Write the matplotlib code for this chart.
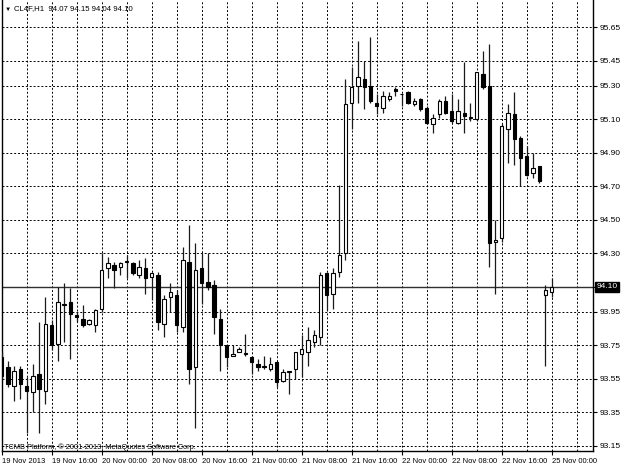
import numpy as np
import matplotlib
matplotlib.use("Agg")
import matplotlib.pyplot as plt
from matplotlib.transforms import blended_transform_factory

plt.rcParams['font.family'] = ['Liberation Sans', 'DejaVu Sans']

# hourly candles, CL4F H1 (bar index -4 = 19 Nov 08:00)
opens = [93.68, 93.62, 93.51, 93.61, 93.51, 93.47, 93.58, 93.48, 93.87, 93.76,
         93.99, 94.01, 93.93, 93.91, 93.88, 93.87, 93.97, 94.21, 94.23, 94.22,
         94.25, 94.24, 94.17, 94.21, 94.16, 94.17, 93.88, 94.04, 94.05, 93.86,
         94.25, 93.62, 94.21, 94.13, 94.11, 93.91, 93.75, 93.69, 93.71, 93.70,
         93.68, 93.64, 93.63, 93.61, 93.65, 93.54, 93.59, 93.61, 93.70, 93.71,
         93.77, 93.80, 94.18, 94.06, 94.19, 94.30, 95.20, 95.30, 95.34, 95.30,
         95.20, 95.17, 95.22, 95.28, 95.25, 95.26, 95.19, 95.22, 95.17, 95.07,
         95.13, 95.21, 95.15, 95.08, 95.14, 95.11, 95.10, 95.37, 95.30, 94.37,
         94.39, 95.04, 95.13, 94.99, 94.88, 94.78, 94.82, 94.05, 94.07]
highs = [93.71, 93.66, 93.63, 93.63, 93.56, 93.64, 93.89, 94.04, 93.90, 94.10,
         94.12, 94.09, 93.95, 93.99, 93.91, 93.97, 94.30, 94.28, 94.25, 94.25,
         94.29, 94.25, 94.26, 94.27, 94.19, 94.19, 94.05, 94.12, 94.08, 94.34,
         94.47, 94.36, 94.30, 94.30, 94.14, 93.97, 93.75, 93.75, 93.74, 93.82,
         93.69, 93.67, 93.69, 93.68, 93.65, 93.61, 93.60, 93.71, 93.81, 93.86,
         93.84, 94.19, 94.19, 94.21, 94.71, 95.34, 95.41, 95.57, 95.45, 95.59,
         95.25, 95.27, 95.26, 95.29, 95.25, 95.27, 95.23, 95.23, 95.18, 95.13,
         95.22, 95.24, 95.25, 95.22, 95.44, 95.20, 95.38, 95.51, 95.55, 94.50,
         95.07, 95.19, 95.26, 95.00, 94.94, 94.90, 94.82, 94.11, 94.15]
lows = [93.55, 93.50, 93.42, 93.43, 93.23, 93.35, 93.23, 93.40, 93.72, 93.66,
        93.77, 93.67, 93.89, 93.86, 93.87, 93.83, 93.95, 94.15, 94.09, 94.17,
        94.15, 94.17, 94.15, 94.06, 94.02, 93.84, 93.80, 93.95, 93.83, 93.83,
        93.52, 93.26, 94.00, 94.08, 93.82, 93.60, 93.62, 93.69, 93.71, 93.69,
        93.58, 93.60, 93.61, 93.60, 93.50, 93.53, 93.46, 93.55, 93.56, 93.63,
        93.74, 93.75, 93.96, 93.97, 94.16, 94.26, 95.04, 95.20, 95.16, 95.20,
        95.13, 95.14, 95.21, 95.24, 95.18, 95.19, 95.18, 95.15, 95.07, 95.02,
        95.11, 95.13, 95.08, 95.07, 95.02, 95.09, 95.09, 95.28, 94.22, 94.06,
        94.37, 94.84, 94.83, 94.70, 94.76, 94.75, 94.72, 93.63, 94.04]
closes = [93.57, 93.52, 93.60, 93.52, 93.48, 93.57, 93.49, 93.88, 93.75, 94.01,
          94.00, 93.94, 93.92, 93.87, 93.90, 93.96, 94.20, 94.24, 94.20, 94.24,
          94.25, 94.18, 94.22, 94.15, 94.18, 93.89, 94.03, 94.07, 93.87, 94.26,
          93.61, 94.20, 94.12, 94.10, 93.92, 93.75, 93.68, 93.70, 93.73, 93.70,
          93.65, 93.62, 93.62, 93.64, 93.53, 93.59, 93.60, 93.71, 93.73, 93.78,
          93.81, 94.17, 94.05, 94.18, 94.29, 95.19, 95.29, 95.35, 95.29, 95.21,
          95.18, 95.24, 95.24, 95.27, 95.25, 95.20, 95.21, 95.16, 95.08, 95.11,
          95.21, 95.14, 95.09, 95.15, 95.12, 95.11, 95.38, 95.29, 94.36, 94.38,
          95.06, 95.14, 94.98, 94.87, 94.77, 94.81, 94.73, 94.08, 94.10]

price_levels = [95.65, 95.45, 95.30, 95.10, 94.90, 94.70, 94.50, 94.30, 94.10,
                93.95, 93.75, 93.55, 93.35, 93.15]
time_labels = ['19 Nov 2013', '19 Nov 16:00', '20 Nov 00:00', '20 Nov 08:00',
               '20 Nov 16:00', '21 Nov 00:00', '21 Nov 08:00', '21 Nov 16:00',
               '22 Nov 00:00', '22 Nov 08:00', '22 Nov 16:00', '25 Nov 00:00']
last_price = 94.10

o = np.array(opens)
h = np.array(highs)
l = np.array(lows)
c = np.array(closes)
x = np.arange(len(o)) - 4

fig = plt.figure(figsize=(6.24, 4.68), dpi=100)
ax = fig.add_axes([1.5 / 624, 1 - 451 / 468, 591.5 / 624, 451 / 468])
ax.set_xlim(-4.03, 90.6)
ax.set_ylim(93.12, 95.812)

# grid
grid_kw = dict(color='black', lw=0.7, ls=(0, (2, 2)), zorder=1)
for k in range(0, 89, 4):
    ax.axvline(k, **grid_kw)
for p in price_levels:
    ax.axhline(p, **grid_kw)

# current price line
ax.axhline(last_price, color='#303030', lw=1.0, zorder=2)

# candles
ax.vlines(x, l, h, color='#1a1a1a', lw=0.9, zorder=3)
bull = c >= o
body_lo = np.minimum(o, c)
body_h = np.maximum(np.abs(c - o), 0.002)
ax.bar(x[bull], body_h[bull], bottom=body_lo[bull], width=0.55,
       facecolor='white', edgecolor='black', lw=0.8, zorder=4)
ax.bar(x[~bull], body_h[~bull], bottom=body_lo[~bull], width=0.55,
       facecolor='black', edgecolor='black', lw=0.8, zorder=4)

# axes, ticks
ax.spines['top'].set_visible(False)
for s in ['left', 'right', 'bottom']:
    ax.spines[s].set_linewidth(1.0)
    ax.spines[s].set_color('black')

ax.yaxis.tick_right()
ax.set_yticks(price_levels)
ax.set_yticklabels(['' if p == last_price else f'{p:.2f}' for p in price_levels])
ax.tick_params(axis='y', length=3, width=0.8, pad=1.5, labelsize=6.0)

ax.set_xticks(np.arange(len(time_labels)) * 8 - 4)
ax.set_xticklabels(time_labels)
ax.tick_params(axis='x', length=3, width=0.8, pad=2, labelsize=5.5)
plt.setp(ax.get_xticklabels(), ha='left')

# price box on the right
tr = blended_transform_factory(ax.transAxes, ax.transData)
ax.text(1.006, last_price, f'{last_price:.2f}', transform=tr, fontsize=6.0,
        color='white', va='center', ha='left', clip_on=False,
        bbox=dict(boxstyle='square,pad=0.2', facecolor='black', edgecolor='black'))

# header and copyright
fig.text(5 / 624, 1 - 9 / 468, '\u25bc', fontsize=4.5, va='center', ha='left')
fig.text(14 / 624, 1 - 9 / 468, 'CL4F,H1  94.07 94.15 94.04 94.10', fontsize=5.6,
         va='center', ha='left')
fig.text(4 / 624, 1 - 447 / 468, 'TCMB Platform, \u00a9 2001-2013, MetaQuotes Software Corp.',
         fontsize=5.3, va='center', ha='left')

fig.savefig('out.png', dpi=100)
